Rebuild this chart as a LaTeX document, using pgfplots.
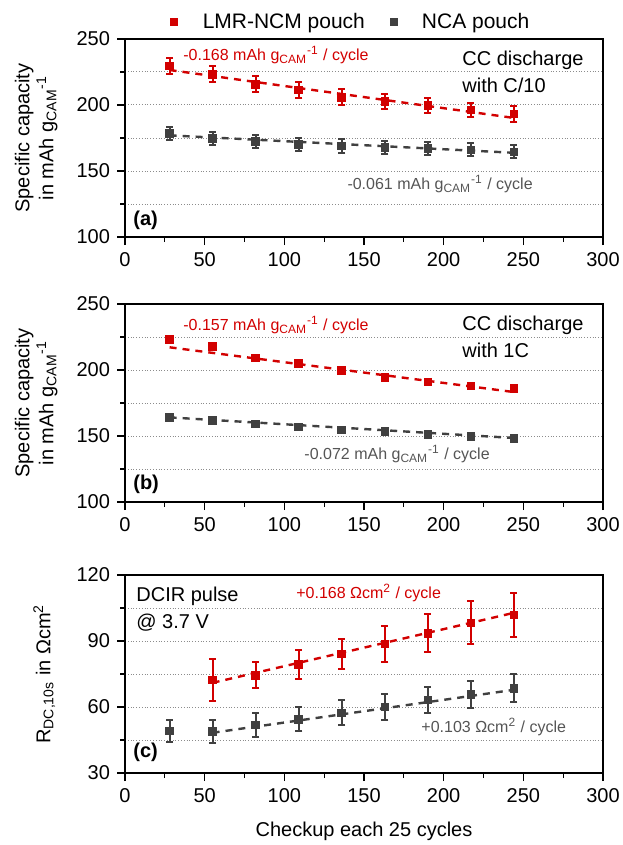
\documentclass[border=0pt]{standalone}
\usepackage{pgfplots}
\pgfplotsset{compat=1.18}
\usepackage{fontspec}
\setmainfont{Liberation Sans}

\definecolor{lmr}{RGB}{210,0,0}
\definecolor{nca}{RGB}{64,64,64}
\definecolor{ncatext}{RGB}{85,85,85}

% data: x = checkup position, y = value, e = error
\pgfplotstableread{
x   y     e
28  229.5 6
55  223.3 6
82  215.7 6
109 211.4 6
136 205.8 6
163 202.5 5.5
190 199.5 5.5
217 196.2 5.5
244 193.2 6
}\lmrA
\pgfplotstableread{
x   y     e
28  178.6 5
55  174.8 5
82  172.2 5
109 170.2 5
136 169.0 5
163 168.0 5
190 167.2 5
217 166.0 5
244 164.6 5
}\ncaA
\pgfplotstableread{
x   y     e
28  223.3 1.2
55  218.0 1.2
82  209.2 1.2
109 204.9 1.2
136 199.5 1.2
163 194.5 1.2
190 191.1 1.2
217 188.1 1.2
244 186.1 1.2
}\lmrB
\pgfplotstableread{
x   y     e
28  164.1 1.2
55  161.6 1.2
82  159.1 1.2
109 157.0 1.2
136 154.5 1.2
163 153.3 1.2
190 151.3 1.2
217 149.5 1.2
244 148.3 1.2
}\ncaB
\pgfplotstableread{
x   y     e
55  72.3  9.6
82  74.5  5.9
109 79.4  6.6
136 84.1  7.0
163 88.6  8.1
190 93.5  8.6
217 98.3  9.8
244 101.8 10.0
}\lmrC
\pgfplotstableread{
x   y     e
28  49.1  5.2
55  48.8  5.3
82  51.8  5.3
109 54.5  5.5
136 57.4  5.8
163 60.1  5.8
190 63.2  6.0
217 65.7  6.2
244 68.5  6.3
}\ncaC

\pgfplotsset{
  panel/.style={
    width=239pt, height=99pt, scale only axis,
    xmin=0, xmax=300, xtick={0,50,...,300}, minor xtick={25,75,...,275},
    xtick pos=bottom, ytick pos=left, tick align=outside,
    major tick length=4pt, minor tick length=2.5pt,
    ymajorgrids, yminorgrids,
    major grid style={densely dotted, black!45, line width=0.5pt},
    minor grid style={densely dotted, black!45, line width=0.5pt},
    every tick label/.append style={font=\fontsize{10}{12}\selectfont},
    /pgf/number format/assume math mode=true,
    label style={font=\fontsize{10}{12}\selectfont},
    axis line style={line width=0.8pt},
    every tick/.style={black, line width=0.6pt},
    ylabel style={at={(rel axis cs:-0.186,0.5)}, anchor=center, align=center},
  },
  fitline/.style={dash pattern=on 3.5pt off 3pt, line width=1.2pt, forget plot},
  pts/.style={only marks, mark=square*, mark size=1.9pt, forget plot,
    /pgfplots/error bars/y dir=both, /pgfplots/error bars/y explicit,
    /pgfplots/error bars/error bar style={line width=1pt},
    /pgfplots/error bars/error mark options={rotate=90, mark size=1.8pt, line width=1pt}},
}
\tikzset{
  note/.style={font=\fontsize{8}{10}\selectfont, anchor=west, inner sep=0pt},
  side/.style={anchor=west, align=left, inner sep=0pt, font=\fontsize{10}{13.5}\selectfont},
  tag/.style={anchor=west, inner sep=0pt, font=\bfseries\fontsize{10}{12}\selectfont},
}

\begin{document}
\begin{tikzpicture}
\useasboundingbox (0,0) rectangle (311pt,-422.5pt);

% (a)
\begin{axis}[panel, at={(62.5pt,-19.5pt)}, anchor=north west,
  ymin=100, ymax=250, ytick={100,150,200,250}, minor ytick={125,175,225},
  ylabel={Specific capacity\\in mAh g\textsubscript{CAM}\textsuperscript{-1}},
  legend style={at={(rel axis cs:0.475,1.085)}, anchor=center, draw=none, fill=none,
    legend columns=2, font=\fontsize{10.5}{12}\selectfont, column sep=10.5pt},
  legend cell align=left]
\addlegendimage{only marks, mark=square*, lmr, mark size=1.75pt}
\addlegendentry{LMR-NCM pouch}
\addlegendimage{only marks, mark=square*, nca, mark size=1.75pt}
\addlegendentry{NCA pouch}
\addplot[lmr, fitline] coordinates {(28,226.5) (244,190.2)};
\addplot[nca, fitline] coordinates {(28,177.0) (244,163.8)};
\addplot[lmr, pts] table[x=x, y=y, y error=e] {\lmrA};
\addplot[nca, pts] table[x=x, y=y, y error=e] {\ncaA};
\node[note, text=lmr] at (axis cs:36.4,237.9) {-0.168 mAh g\textsubscript{CAM}\textsuperscript{-1} / cycle};
\node[note, text=ncatext] at (axis cs:139.4,140.2) {-0.061 mAh g\textsubscript{CAM}\textsuperscript{-1} / cycle};
\node[side] at (axis cs:211.5,225.4) {CC discharge\\with C/10};
\node[tag] at (axis cs:5,112.9) {(a)};
\end{axis}

% (b)
\begin{axis}[panel, at={(62.5pt,-152pt)}, anchor=north west,
  ymin=100, ymax=250, ytick={100,150,200,250}, minor ytick={125,175,225},
  ylabel={Specific capacity\\in mAh g\textsubscript{CAM}\textsuperscript{-1}}]
\addplot[lmr, fitline] coordinates {(28,217.2) (244,183.3)};
\addplot[nca, fitline] coordinates {(28,164.1) (244,148.5)};
\addplot[lmr, pts] table[x=x, y=y, y error=e] {\lmrB};
\addplot[nca, pts] table[x=x, y=y, y error=e] {\ncaB};
\node[note, text=lmr] at (axis cs:36.4,234.1) {-0.157 mAh g\textsubscript{CAM}\textsuperscript{-1} / cycle};
\node[note, text=ncatext] at (axis cs:112.4,136.4) {-0.072 mAh g\textsubscript{CAM}\textsuperscript{-1} / cycle};
\node[side] at (axis cs:211.5,225.4) {CC discharge\\with 1C};
\node[tag] at (axis cs:5,113.6) {(b)};
\end{axis}

% (c)
\begin{axis}[panel, at={(62.5pt,-287.5pt)}, anchor=north west,
  ymin=30, ymax=120, ytick={30,60,90,120}, minor ytick={45,75,105},
  ylabel={R\textsubscript{DC,10s} in Ωcm\textsuperscript{2}},
  ylabel style={at={(rel axis cs:-0.169,0.5)}},
  xlabel={Checkup each 25 cycles},
  xlabel style={at={(rel axis cs:0.5,0)}, anchor=center, yshift=-29pt}]
\addplot[lmr, fitline] coordinates {(55,71.0) (244,102.8)};
\addplot[nca, fitline] coordinates {(55,48.3) (244,67.8)};
\addplot[lmr, pts] table[x=x, y=y, y error=e] {\lmrC};
\addplot[nca, pts] table[x=x, y=y, y error=e] {\ncaC};
\node[note, text=lmr] at (axis cs:107.3,111.8) {+0.168 Ωcm\textsuperscript{2} / cycle};
\node[note, text=ncatext] at (axis cs:185.8,50.9) {+0.103 Ωcm\textsuperscript{2} / cycle};
\node[side] at (axis cs:6.9,104.3) {DCIR pulse\\@ 3.7 V};
\node[tag] at (axis cs:5,39.5) {(c)};
\end{axis}
\end{tikzpicture}
\end{document}
